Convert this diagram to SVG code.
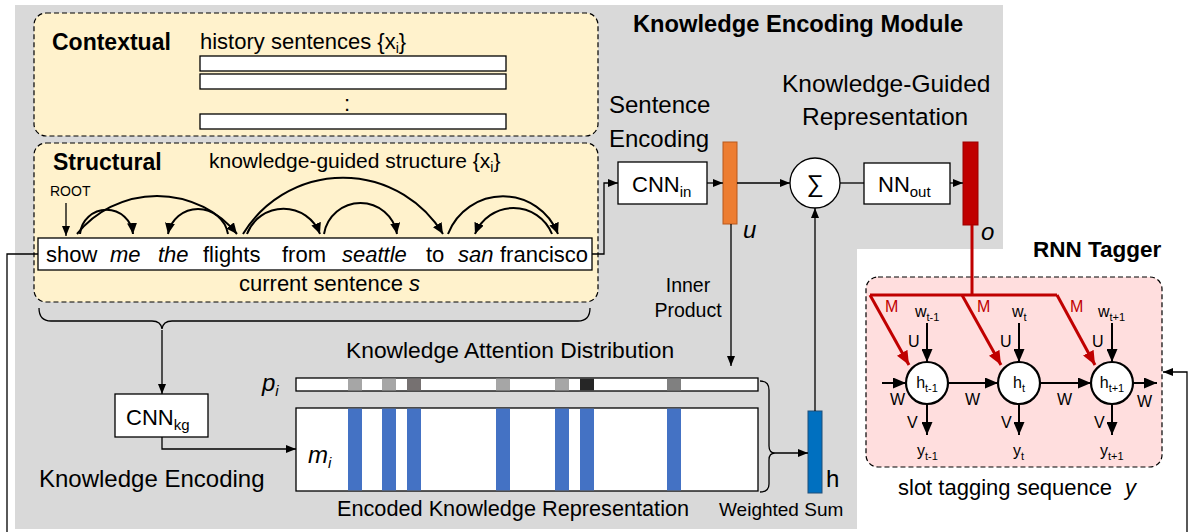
<svg xmlns="http://www.w3.org/2000/svg" width="1190" height="532" viewBox="0 0 1190 532">
<style>
text{font-family:"Liberation Sans",Arial,"DejaVu Sans",sans-serif;fill:#000}
.b{font-weight:bold}
.i{font-style:italic}
.ln{fill:none;stroke:#000;stroke-width:1.3}
.arc{fill:none;stroke:#000;stroke-width:2}
.dash{stroke:#000;stroke-width:1.2;stroke-dasharray:5 3}
.wb{fill:#fff;stroke:#000;stroke-width:1.3}
.rl{fill:none;stroke:#C00000;stroke-width:3}
.tl{fill:none;stroke:#000;stroke-width:2}
.s22{font-size:22px}
.s16{font-size:16px}
.rm{fill:#C00000;font-size:16px}
</style>
<defs>
<marker id="a" markerUnits="userSpaceOnUse" markerWidth="10" markerHeight="8" refX="10" refY="4" orient="auto"><path d="M0,0L10,4L0,8z" fill="#000"/></marker>
<marker id="ak" markerUnits="userSpaceOnUse" markerWidth="11" markerHeight="10" refX="11" refY="5" orient="auto"><path d="M0,0L11,5L0,10z" fill="#000"/></marker>
<marker id="ab" markerUnits="userSpaceOnUse" markerWidth="13" markerHeight="11" refX="13" refY="5.5" orient="auto"><path d="M0,0L13,5.5L0,11z" fill="#000"/></marker>
<marker id="ar" markerUnits="userSpaceOnUse" markerWidth="14" markerHeight="12" refX="14" refY="6" orient="auto"><path d="M0,0L14,6L0,12z" fill="#C00000"/></marker>
</defs>

<g id="background">
<rect x="15" y="5" width="988" height="524" fill="#D9D9D9"/>
<rect x="857" y="249" width="333" height="283" fill="#fff"/>
<text x="633" y="32" class="b" font-size="23.7">Knowledge Encoding Module</text>
</g>

<g id="contextual">
<rect x="34" y="13" width="564" height="123" rx="12" fill="#FFF2CC" class="dash"/>
<text x="52" y="50" class="b" font-size="23">Contextual</text>
<text x="200" y="49" class="s22">history sentences {x<tspan font-size="14" dy="4">i</tspan><tspan dy="-4">}</tspan></text>
<rect x="200" y="56" width="306" height="15" class="wb"/>
<rect x="200" y="74" width="306" height="15" class="wb"/>
<text x="347" y="111" class="s22" text-anchor="middle">:</text>
<rect x="200" y="114" width="306" height="15" class="wb"/>
</g>

<g id="structural">
<rect x="34" y="143" width="564" height="159" rx="12" fill="#FFF2CC" class="dash"/>
<text x="53" y="170" class="b" font-size="23">Structural</text>
<text x="209" y="168" font-size="21">knowledge-guided structure {x<tspan font-size="14" dy="4">i</tspan><tspan dy="-4">}</tspan></text>
<text x="50" y="196" font-size="14">ROOT</text>
<rect x="38" y="238" width="554" height="32" class="wb"/>
<text y="262" class="s22"><tspan x="46">show</tspan><tspan x="110" class="i">me</tspan><tspan x="158" class="i">the</tspan><tspan x="203">flights</tspan><tspan x="282">from</tspan><tspan x="342" class="i">seattle</tspan><tspan x="426">to</tspan><tspan x="458" class="i">san</tspan><tspan x="500">francisco</tspan></text>
<text x="239" y="291" class="s22">current sentence <tspan class="i">s</tspan></text>
</g>

<g id="cnn-in">
<text x="609" y="113" font-size="24">Sentence</text>
<text x="609" y="147" font-size="24">Encoding</text>
<rect x="618" y="162" width="89" height="42" class="wb"/>
<text x="632" y="192" class="s22">CNN<tspan font-size="15" dy="5">in</tspan></text>
</g>

<g id="u-vector">
<rect x="723" y="142" width="14" height="82" fill="#ED7D31" stroke="#B8591C" stroke-width="1"/>
<text x="743" y="238" class="i" font-size="24">u</text>
</g>

<g id="sum">
<circle cx="815" cy="183" r="25" class="wb"/>
<text x="815" y="192" text-anchor="middle" font-size="24">∑</text>
</g>

<g id="nn-out">
<text x="782" y="92" font-size="24.5">Knowledge-Guided</text>
<text x="802" y="125" font-size="24.5">Representation</text>
<rect x="864" y="163" width="86" height="41" class="wb"/>
<text x="878" y="192" class="s22">NN<tspan font-size="15" dy="5">out</tspan></text>
</g>

<g id="o-vector">
<rect x="963" y="142" width="15" height="83" fill="#C00000" stroke="#9A0000" stroke-width="1"/>
<text x="981" y="240" class="i" font-size="24">o</text>
</g>

<g id="inner-product">
<text x="688" y="292" font-size="19.5" text-anchor="middle">Inner</text>
<text x="688" y="317" font-size="19.5" text-anchor="middle">Product</text>
</g>

<g id="cnn-kg">
<rect x="115" y="394" width="93" height="43" class="wb"/>
<text x="126" y="425" class="s22">CNN<tspan font-size="15" dy="5">kg</tspan></text>
<text x="39" y="487" font-size="24">Knowledge Encoding</text>
</g>

<g id="attention">
<text x="346" y="358" font-size="22.8">Knowledge Attention Distribution</text>
<text x="262" y="391" class="i" font-size="24">p<tspan font-size="15" dy="5">i</tspan></text>
<rect x="296" y="378" width="462" height="13" class="wb"/>
<rect x="348" y="378.6" width="14" height="11.8" fill="#A6A6A6"/>
<rect x="382" y="378.6" width="14" height="11.8" fill="#A6A6A6"/>
<rect x="407" y="378.6" width="14" height="11.8" fill="#767171"/>
<rect x="496" y="378.6" width="14" height="11.8" fill="#A6A6A6"/>
<rect x="555" y="378.6" width="14" height="11.8" fill="#A6A6A6"/>
<rect x="580" y="378.6" width="14" height="11.8" fill="#262626"/>
<rect x="667" y="378.6" width="14" height="11.8" fill="#808080"/>
</g>

<g id="memory">
<rect x="296" y="408" width="462" height="83" class="wb"/>
<g fill="#4472C4">
<rect x="348" y="408.6" width="14" height="81.8"/>
<rect x="382" y="408.6" width="14" height="81.8"/>
<rect x="407" y="408.6" width="14" height="81.8"/>
<rect x="496" y="408.6" width="14" height="81.8"/>
<rect x="555" y="408.6" width="14" height="81.8"/>
<rect x="580" y="408.6" width="14" height="81.8"/>
<rect x="667" y="408.6" width="14" height="81.8"/>
</g>
<text x="308" y="463" class="i" font-size="24">m<tspan font-size="15" dy="5">i</tspan></text>
<text x="337" y="516" font-size="21.7">Encoded Knowledge Representation</text>
</g>

<g id="h-vector">
<rect x="808" y="411" width="14" height="82" fill="#0070C0" stroke="#1F4E79" stroke-width="1"/>
<text x="826" y="487" font-size="24">h</text>
<text x="719" y="516" font-size="19">Weighted Sum</text>
</g>

<g id="rnn-tagger">
<text x="1033" y="257" class="b" font-size="22.5">RNN Tagger</text>
<rect x="866" y="277" width="296" height="190" rx="12" fill="#FFDEDE" class="dash"/>
<text x="885" y="312" class="rm">M</text>
<text x="977" y="312" class="rm">M</text>
<text x="1070" y="312" class="rm">M</text>
<text x="915" y="317" class="s16">w<tspan font-size="11" dy="4">t-1</tspan></text>
<text x="1012" y="317" class="s16">w<tspan font-size="11" dy="4">t</tspan></text>
<text x="1098" y="317" class="s16">w<tspan font-size="11" dy="4">t+1</tspan></text>
<text x="908" y="347" class="s16">U</text>
<text x="1000" y="347" class="s16">U</text>
<text x="1092" y="347" class="s16">U</text>
<circle cx="927" cy="383" r="21" fill="#fff" stroke="#000" stroke-width="2.2"/>
<circle cx="1019" cy="383" r="21" fill="#fff" stroke="#000" stroke-width="2.2"/>
<circle cx="1112" cy="383" r="21" fill="#fff" stroke="#000" stroke-width="2.2"/>
<text x="927" y="388" class="s16" text-anchor="middle">h<tspan font-size="11" dy="4">t-1</tspan></text>
<text x="1019" y="388" class="s16" text-anchor="middle">h<tspan font-size="11" dy="4">t</tspan></text>
<text x="1112" y="388" class="s16" text-anchor="middle">h<tspan font-size="11" dy="4">t+1</tspan></text>
<text x="890" y="405" class="s16">W</text>
<text x="965" y="405" class="s16">W</text>
<text x="1057" y="405" class="s16">W</text>
<text x="1137" y="407" class="s16">W</text>
<text x="907" y="428" class="s16">V</text>
<text x="1001" y="428" class="s16">V</text>
<text x="1094" y="428" class="s16">V</text>
<text x="917" y="456" class="s16">y<tspan font-size="11" dy="4">t-1</tspan></text>
<text x="1013" y="456" class="s16">y<tspan font-size="11" dy="4">t</tspan></text>
<text x="1100" y="456" class="s16">y<tspan font-size="11" dy="4">t+1</tspan></text>
<text x="898" y="495" class="s22">slot tagging sequence</text>
<text x="1125" y="495" class="s22 i">y</text>
</g>

<g id="connectors">
<path class="arc" marker-end="url(#ak)" d="M80,234 A26.6,26.6 0 0 1 133,234"/>
<path class="arc" marker-end="url(#ak)" d="M77,234 A103,103 0 0 1 237,234"/>
<path class="arc" marker-end="url(#ak)" d="M228,234 A30.5,30.5 0 0 0 168,234"/>
<path class="arc" marker-end="url(#ak)" d="M247,234 A39,39 0 0 1 320,234"/>
<path class="arc" marker-end="url(#ak)" d="M243,234 A117,117 0 0 1 443,234"/>
<path class="arc" marker-end="url(#ak)" d="M324,234 A37,37 0 0 1 397,234"/>
<path class="arc" marker-end="url(#ak)" d="M448,234 A59,59 0 0 1 558,234"/>
<path class="arc" marker-end="url(#ak)" d="M552,234 A41.5,41.5 0 0 0 475,234"/>
<path class="ln" marker-end="url(#a)" d="M66,203 L66,236"/>
<path class="ln" marker-end="url(#a)" d="M592,254 L604,254 L604,183 L618,183"/>
<path class="ln" marker-end="url(#a)" d="M707,183 L723,183"/>
<path class="ln" marker-end="url(#a)" d="M737,183 L790,183"/>
<path class="ln" d="M840,183 L864,183"/>
<path class="ln" marker-end="url(#a)" d="M950,183 L963,183"/>
<path class="ln" marker-end="url(#a)" d="M731,224 L731,366"/>
<path class="ln" marker-end="url(#a)" d="M815,411 L815,208"/>
<path class="ln" d="M39,308 Q39,321 51,321 L152,321 Q161,321 162,329 Q163,321 172,321 L578,321 Q590,321 590,308"/>
<path class="ln" marker-end="url(#a)" d="M162,330 L162,394"/>
<path class="ln" marker-end="url(#a)" d="M162,437 L162,449 L296,449"/>
<path class="ln" d="M760,381 Q769,381 769,390 L769,446 Q769,453 775,453 Q769,453 769,460 L769,484 Q769,492 760,492"/>
<path class="ln" marker-end="url(#a)" d="M775,453 L808,453"/>
<path class="ln" d="M38,254 L7,254 L7,532"/>
<path class="ln" marker-end="url(#a)" d="M1187,532 L1187,372 L1163,372"/>
<path class="rl" d="M972,225 L972,295 M870,295 L1057,295"/>
<path class="rl" marker-end="url(#ar)" d="M870,295 L909,365"/>
<path class="rl" marker-end="url(#ar)" d="M962,295 L1001,365"/>
<path class="rl" marker-end="url(#ar)" d="M1057,295 L1095,365"/>
<path class="tl" marker-end="url(#ab)" d="M882,383 L906,383"/>
<path class="tl" marker-end="url(#ab)" d="M948,383 L998,383"/>
<path class="tl" marker-end="url(#ab)" d="M1040,383 L1091,383"/>
<path class="tl" marker-end="url(#ab)" d="M1133,383 L1157,383"/>
<path class="tl" marker-end="url(#ab)" d="M927,323 L927,362"/>
<path class="tl" marker-end="url(#ab)" d="M1019,323 L1019,362"/>
<path class="tl" marker-end="url(#ab)" d="M1112,323 L1112,362"/>
<path class="tl" marker-end="url(#ab)" d="M927,404 L927,435"/>
<path class="tl" marker-end="url(#ab)" d="M1019,404 L1019,435"/>
<path class="tl" marker-end="url(#ab)" d="M1112,404 L1112,435"/>
</g>
</svg>
